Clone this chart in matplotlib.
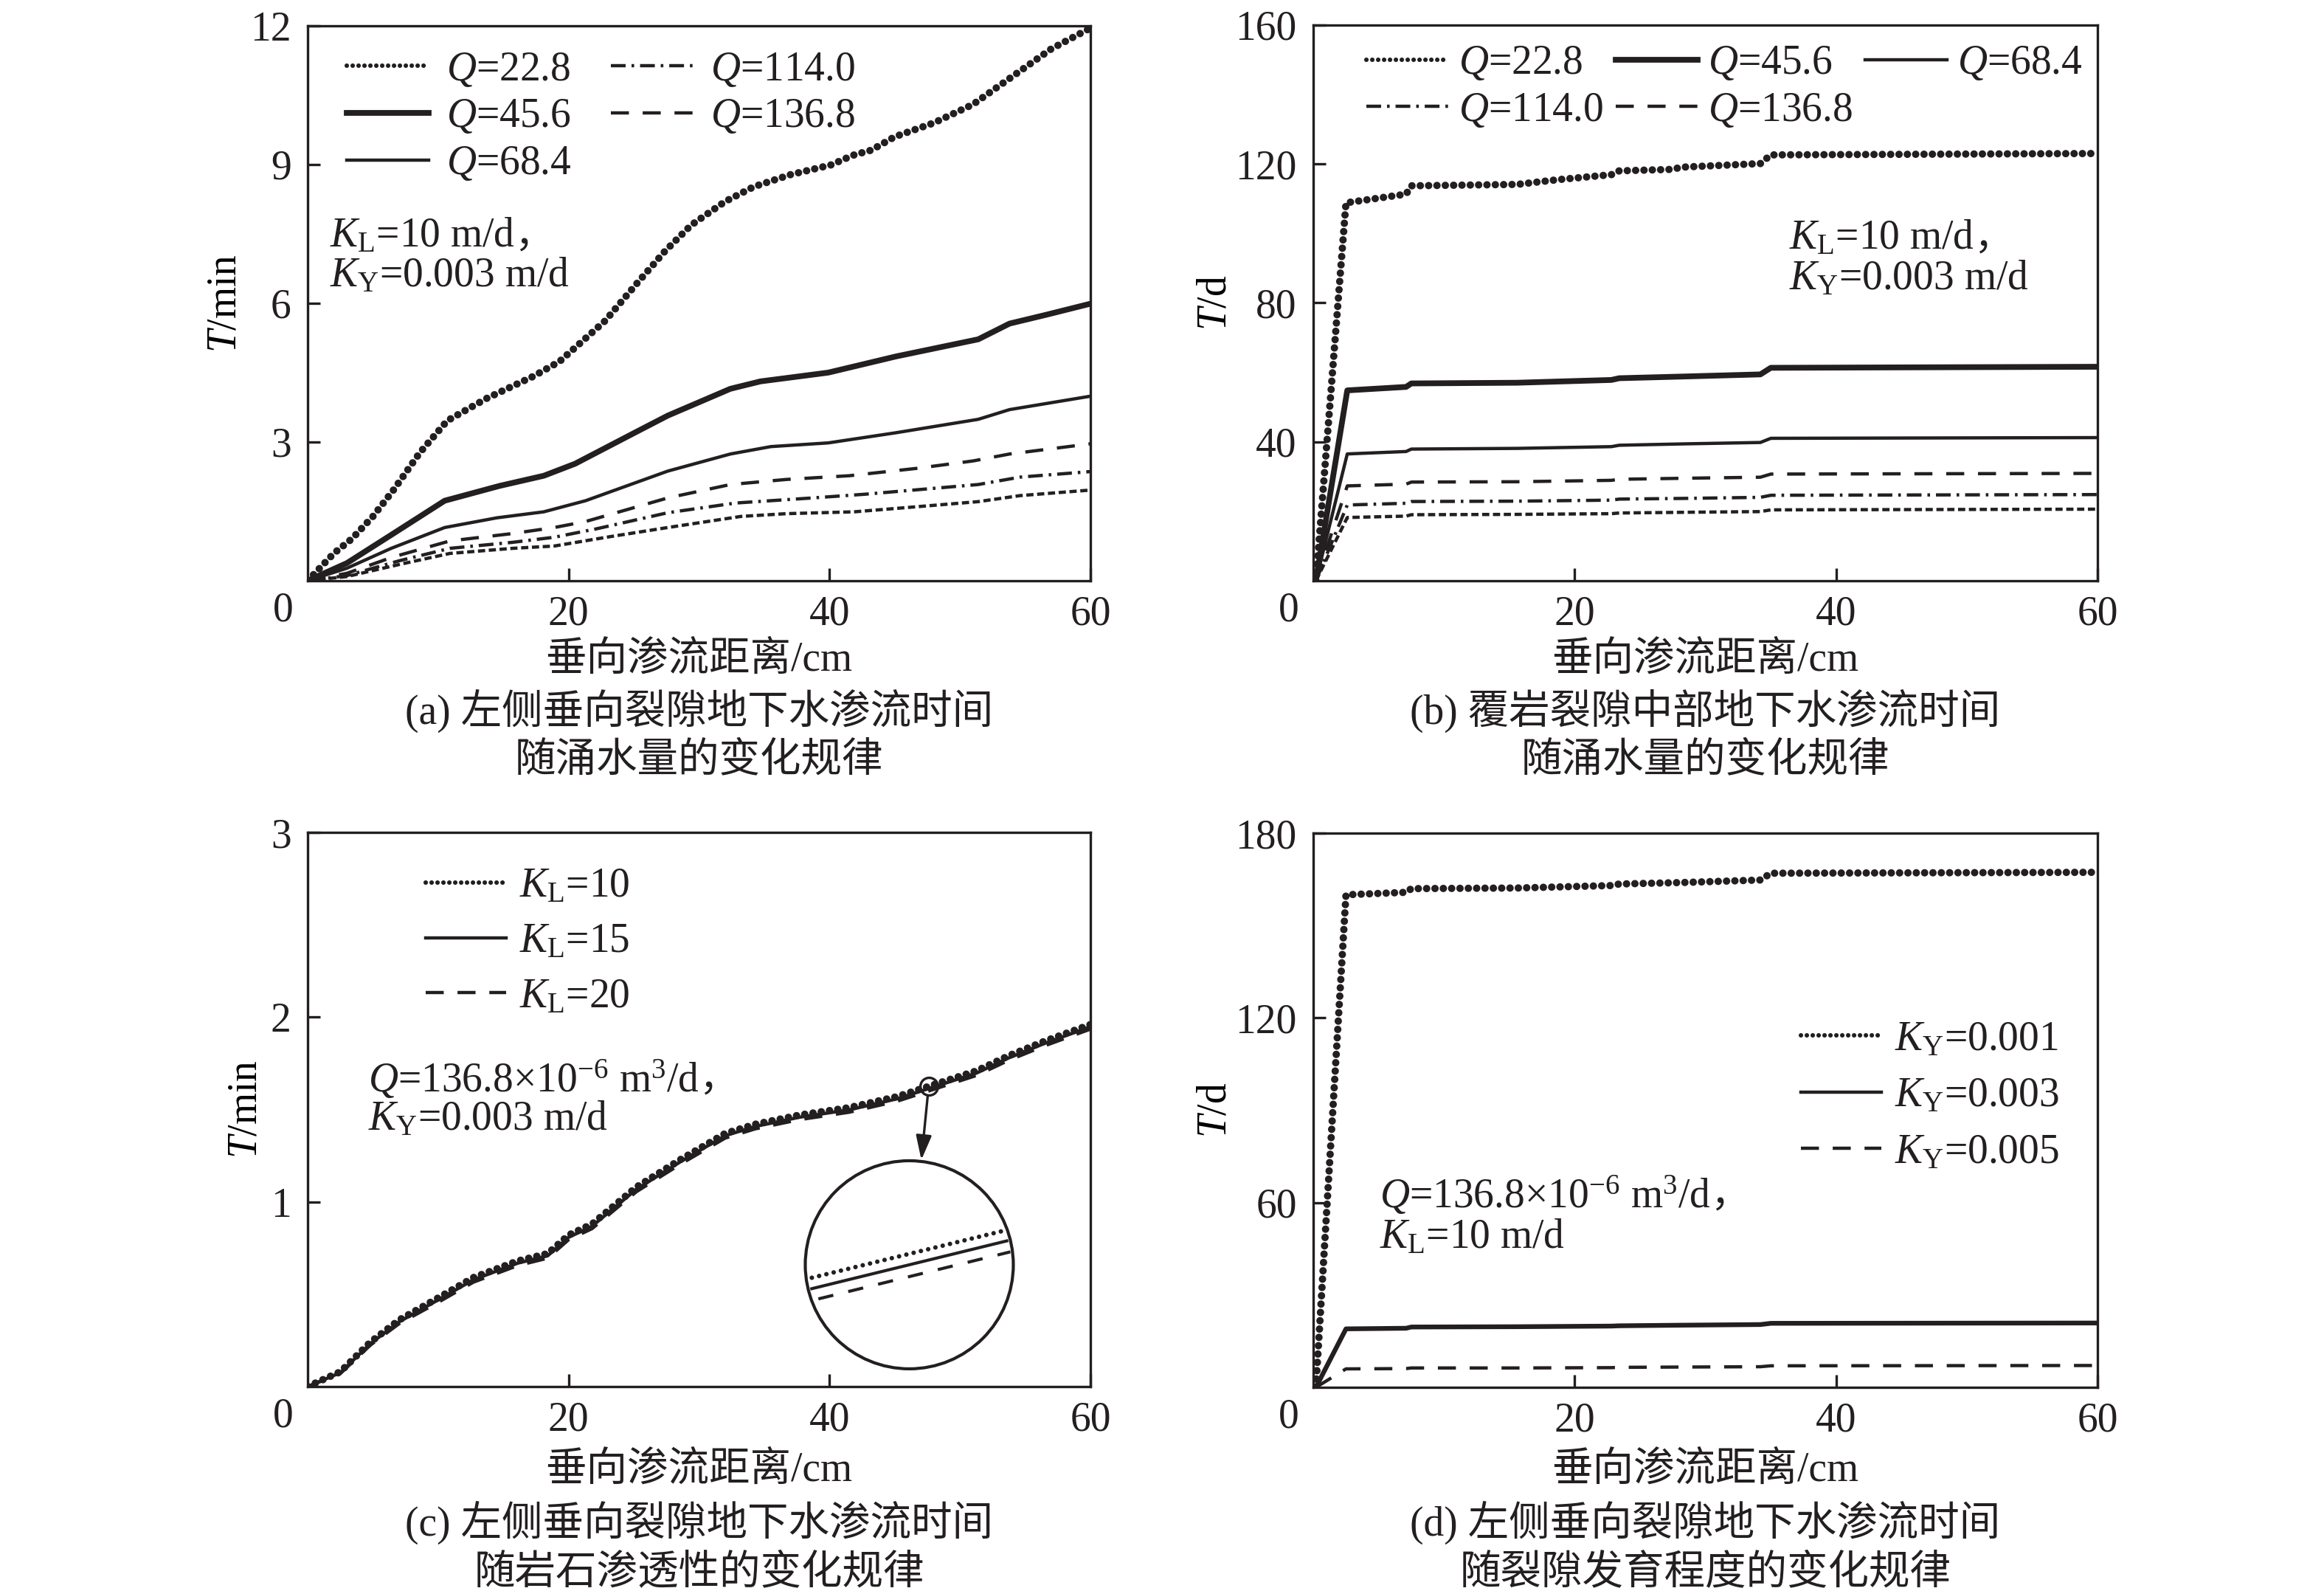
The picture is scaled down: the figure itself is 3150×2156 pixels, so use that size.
import matplotlib
matplotlib.use('Agg')
import numpy as np
import matplotlib.pyplot as plt
from matplotlib.lines import Line2D
from matplotlib.patches import Circle

# ---- (a) seepage time vs distance for different inflow Q ----
a_q228_x = [0, 2.0, 3.4, 5.0, 6.6, 8.6, 10.7, 13.7, 17.3, 19.3, 20.7, 22.8, 25.3, 27.4, 29.4,
            32.0, 34.2, 37.0, 40.1, 41.8, 43.2, 45, 48, 51, 53, 55, 57, 60]
a_q228_y = [0, 0.59, 0.91, 1.39, 1.97, 2.77, 3.46, 3.94, 4.42, 4.74, 5.09, 5.62, 6.45, 7.13, 7.69,
            8.2, 8.52, 8.78, 8.99, 9.2, 9.31, 9.6, 9.9, 10.3, 10.7, 11.1, 11.5, 11.95]
a_q456_x = [0, 3.0, 6.4, 10.5, 14.7, 18.1, 20.5, 25.2, 27.6, 32.4, 34.7, 39.9, 45.1, 51.4, 53.8, 56.6, 60]
a_q456_y = [0, 0.38, 0.99, 1.73, 2.05, 2.27, 2.53, 3.22, 3.57, 4.15, 4.31, 4.5, 4.85, 5.22, 5.56, 5.75, 5.99]
a_q684_x = [0, 3.0, 6.4, 10.5, 14.5, 18.1, 21.3, 27.6, 32.4, 35.5, 39.9, 45.1, 51.4, 53.8, 60]
a_q684_y = [0, 0.27, 0.70, 1.15, 1.36, 1.49, 1.73, 2.37, 2.74, 2.90, 2.98, 3.20, 3.49, 3.70, 3.99]
a_q1140_x = [0, 3.0, 7.0, 10.9, 15.7, 18.9, 22.1, 27.6, 32.8, 38.7, 42.7, 51.4, 54.6, 60]
a_q1140_y = [0, 0.11, 0.43, 0.70, 0.83, 0.94, 1.12, 1.47, 1.68, 1.79, 1.87, 2.08, 2.24, 2.36]
a_q1368_x = [0, 3.0, 6.5, 10.9, 15.7, 18.9, 21.3, 27.6, 32.4, 36.7, 41.5, 46.7, 51.0, 53.8, 60]
a_q1368_y = [0, 0.16, 0.51, 0.86, 1.02, 1.15, 1.28, 1.79, 2.08, 2.19, 2.27, 2.43, 2.59, 2.74, 2.96]
a_extra_x = [0, 3.0, 7.0, 10.9, 15.7, 18.9, 22.9, 27.6, 33.2, 36.7, 41.9, 46.7, 51.4, 54.6, 60]
a_extra_y = [0, 0.09, 0.35, 0.59, 0.70, 0.75, 0.94, 1.15, 1.39, 1.45, 1.49, 1.60, 1.71, 1.84, 1.96]

# ---- (b) middle of overburden fracture ----
b_x = [0.2, 2.6, 7.1, 7.5, 15.6, 22.8, 23.4, 28.4, 34.2, 35.0, 60]
b_q228_x = [0.2, 2.5, 7.1, 7.5, 15.6, 18.8, 22.8, 23.4, 27.2, 28.4, 34.2, 35.0, 60]
b_q228_y = [0, 108.8, 111.3, 113.7, 114.1, 115.5, 116.9, 118.0, 118.4, 119.1, 120.1, 122.6, 123.0]
b_q456_y = [0, 54.8, 55.8, 56.8, 57.0, 57.8, 58.3, 58.8, 59.4, 61.3, 61.6]
b_q684_y = [0, 36.5, 37.2, 37.9, 38.1, 38.6, 39.0, 39.4, 39.8, 41.0, 41.2]
b_q1140_y = [0, 21.8, 22.3, 22.8, 22.9, 23.2, 23.5, 23.7, 24.0, 24.6, 24.8]
b_q1368_y = [0, 27.3, 27.8, 28.4, 28.5, 28.9, 29.2, 29.5, 29.8, 30.7, 30.9]
b_extra_y = [0, 18.2, 18.6, 19.0, 19.1, 19.3, 19.5, 19.7, 19.9, 20.4, 20.6]

# ---- (c) different rock permeability K_L ----
c_x = [0, 2.5, 4.8, 7.0, 10.0, 12.7, 16.1, 18.4, 20.0, 21.8, 25.2, 28.6, 32.0, 34.3, 37.7,
       41.5, 45.2, 51.3, 53.7, 56.5, 60]
c_kl10_y = [0, 0.08, 0.24, 0.36, 0.48, 0.59, 0.68, 0.72, 0.82, 0.88, 1.08, 1.23, 1.37, 1.42, 1.47,
            1.51, 1.57, 1.71, 1.79, 1.87, 1.96]
c_kl15_y = [0, 0.075, 0.232, 0.35, 0.469, 0.578, 0.668, 0.708, 0.808, 0.868, 1.068, 1.218, 1.358, 1.408, 1.458,
            1.498, 1.558, 1.698, 1.778, 1.858, 1.948]
c_kl20_y = [0, 0.07, 0.224, 0.34, 0.456, 0.565, 0.655, 0.695, 0.795, 0.855, 1.055, 1.205, 1.345, 1.395, 1.445,
            1.485, 1.545, 1.685, 1.765, 1.845, 1.935]
c_zoom_x = 47.6

# ---- (d) different fracture development K_Y ----
d_x = [0.2, 2.5, 7.1, 7.5, 15.6, 22.8, 23.4, 28.4, 34.2, 35.0, 60]
d_ky001_y = [0, 160.0, 160.8, 162.0, 162.2, 163.0, 163.5, 164.0, 164.8, 167.0, 167.3]
d_ky003_y = [0, 19.0, 19.2, 19.6, 19.7, 19.9, 20.0, 20.2, 20.4, 20.8, 20.9]
d_ky005_y = [0, 6.0, 6.1, 6.3, 6.3, 6.4, 6.5, 6.6, 6.7, 7.0, 7.1]

INK = '#231f20'
plt.rcParams['font.family'] = ['Liberation Serif', 'Noto Sans CJK SC']
plt.rcParams['mathtext.fontset'] = 'custom'
plt.rcParams['mathtext.rm'] = 'Liberation Serif'
plt.rcParams['mathtext.it'] = 'Liberation Serif:italic'
plt.rcParams['mathtext.bf'] = 'Liberation Serif:bold'
plt.rcParams['font.size'] = 20
plt.rcParams['text.color'] = INK

DOTS = dict(lw=3.6, ls=(0, (0.01, 1.12)), dash_capstyle='round')
THICK = dict(lw=2.8, ls='-')
SOLID = dict(lw=1.6, ls='-')
DASH = dict(lw=1.6, ls=(0, (5.5, 4.2)))
DASHDOT = dict(lw=1.6, ls=(0, (4.5, 1.8, 0.8, 1.8)))
SQDOT = dict(lw=1.6, ls=(0, (2.2, 1.1)))
DOTS_LEG = dict(lw=2.2, ls=(0, (0.01, 1.3)), dash_capstyle='round')


def setup(ax, ymax, yticks, ylabel, ylab_x):
    ax.set_xlim(0, 60)
    ax.set_ylim(0, ymax)
    ax.set_xticks([20, 40, 60])
    ax.set_yticks(yticks)
    ax.tick_params(direction='in', length=6, width=1.2, colors=INK, labelsize=20)
    ax.tick_params(axis='x', pad=7)
    ax.tick_params(axis='y', pad=8)
    for s in ax.spines.values():
        s.set_linewidth(1.2)
        s.set_color(INK)
    ax.set_ylabel(ylabel, va='center')
    ax.yaxis.set_label_coords(ylab_x, 0.5)
    ax.annotate('0', xy=(0, 0), xycoords='axes fraction', xytext=(-11.9, -14.6),
                textcoords='offset points', ha='center', va='center')


def note(ax, x, y, s, comma=False):
    t = ax.text(x, y, s, transform=ax.transAxes, va='center')
    if comma:
        # full-width comma is drawn separately so the CJK font can supply it
        ax.annotate('，', xy=(1, 0.5), xycoords=t, va='center', ha='left',
                    family=['Noto Sans CJK SC'], fontsize=19)
    return t


fig = plt.figure(figsize=(15.75, 10.78), dpi=200)
ax_a = fig.add_axes([0.1324, 0.6350, 0.3368, 0.3488])
ax_b = fig.add_axes([0.5651, 0.6350, 0.3375, 0.3493])
ax_c = fig.add_axes([0.1324, 0.1285, 0.3368, 0.3483])
ax_d = fig.add_axes([0.5651, 0.1280, 0.3375, 0.3483])

# (a)
setup(ax_a, 12, [3, 6, 9, 12], '$T$/min', -0.1056)
ax_a.plot(a_extra_x, a_extra_y, color=INK, **SQDOT)
l5, = ax_a.plot(a_q1140_x, a_q1140_y, color=INK, **DASHDOT)
l6, = ax_a.plot(a_q1368_x, a_q1368_y, color=INK, **DASH)
l3, = ax_a.plot(a_q684_x, a_q684_y, color=INK, **SOLID)
l2, = ax_a.plot(a_q456_x, a_q456_y, color=INK, **THICK)
ax_a.plot(a_q228_x, a_q228_y, color=INK, **DOTS)
p1 = Line2D([], [], color=INK, **DOTS_LEG)
ax_a.legend([p1, l2, l3, l5, l6],
            ['$Q$=22.8', '$Q$=45.6', '$Q$=68.4', '$Q$=114.0', '$Q$=136.8'],
            ncol=2, loc='upper left', bbox_to_anchor=(0.05, 0.955), frameon=False,
            borderpad=0, borderaxespad=0, handlelength=2.0, handletextpad=0.43,
            columnspacing=0.95, labelspacing=0.21, fontsize=20)
note(ax_a, 0.028, 0.621, '$K_{\\mathrm{L}}$=10 m/d', comma=True)
note(ax_a, 0.028, 0.5485, '$K_{\\mathrm{Y}}$=0.003 m/d')

# (b)
setup(ax_b, 160, [40, 80, 120, 160], '$T$/d', -0.125)
ax_b.plot(b_x, b_extra_y, color=INK, **SQDOT)
m4, = ax_b.plot(b_x, b_q1140_y, color=INK, **DASHDOT)
m5, = ax_b.plot(b_x, b_q1368_y, color=INK, **DASH)
m3, = ax_b.plot(b_x, b_q684_y, color=INK, **SOLID)
m2, = ax_b.plot(b_x, b_q456_y, color=INK, **THICK)
ax_b.plot(b_q228_x, b_q228_y, color=INK, **DOTS)
q1 = Line2D([], [], color=INK, **DOTS_LEG)
ax_b.legend([q1, m4, m2, m5, m3],
            ['$Q$=22.8', '$Q$=114.0', '$Q$=45.6', '$Q$=136.8', '$Q$=68.4'],
            ncol=3, loc='upper left', bbox_to_anchor=(0.0677, 0.965), frameon=False,
            borderpad=0, borderaxespad=0, handlelength=2.0, handletextpad=0.25,
            columnspacing=0.3, labelspacing=0.21, fontsize=20)
note(ax_b, 0.607, 0.616, '$K_{\\mathrm{L}}$=10 m/d', comma=True)
note(ax_b, 0.607, 0.5425, '$K_{\\mathrm{Y}}$=0.003 m/d')

# (c)
setup(ax_c, 3, [1, 2, 3], '$T$/min', -0.079)
n3, = ax_c.plot(c_x, c_kl20_y, color=INK, **DASH)
n2, = ax_c.plot(c_x, c_kl15_y, color=INK, **SOLID)
ax_c.plot(c_x, c_kl10_y, color=INK, **DOTS)
r1 = Line2D([], [], color=INK, **DOTS_LEG)
ax_c.legend([r1, n2, n3], ['$K_{\\mathrm{L}}$=10', '$K_{\\mathrm{L}}$=15', '$K_{\\mathrm{L}}$=20'],
            loc='upper left', bbox_to_anchor=(0.151, 0.937), frameon=False,
            borderpad=0, borderaxespad=0, handlelength=1.95, handletextpad=0.34,
            labelspacing=0.41, fontsize=20)
note(ax_c, 0.0773, 0.554, '$Q$=136.8×10$^{-6}$ m$^{3}$/d', comma=True)
note(ax_c, 0.0773, 0.482, '$K_{\\mathrm{Y}}$=0.003 m/d')

# zoom marker, arrow and magnified circle
zy15 = float(np.interp(c_zoom_x, c_x, c_kl15_y))
zy10 = float(np.interp(c_zoom_x, c_x, c_kl10_y))
ax_c.plot([c_zoom_x], [zy10], marker='o', ms=8.6, mfc='none', mec=INK, mew=1.2, ls='none')
ax_c.annotate('', xy=(0.784, 0.409), xycoords='axes fraction', xytext=(c_zoom_x, zy10),
              textcoords='data',
              arrowprops=dict(arrowstyle='-|>,head_length=0.5,head_width=0.16', color=INK,
                              lw=1.2, shrinkA=4.5, shrinkB=0, mutation_scale=20))
ins = ax_c.inset_axes([0.6357, 0.032, 0.2658, 0.3755])
ins.set_xlim(c_zoom_x - 1.22, c_zoom_x + 1.22)
ins.set_ylim(zy15 - 0.1143, zy15 + 0.1143)
ins.axis('off')
circ = Circle((0.5, 0.5), 0.5, transform=ins.transAxes, fill=False, ec=INK, lw=1.5, clip_on=False)
ins.add_patch(circ)
clipc = Circle((0.5, 0.5), 0.49, transform=ins.transAxes)
for yy, st in [(c_kl10_y, dict(lw=2.2, ls=(0, (0.01, 1.65)), dash_capstyle='round')),
               (c_kl15_y, dict(lw=1.5, ls='-')),
               (c_kl20_y, dict(lw=1.5, ls=(0, (5, 5))))]:
    ln, = ins.plot(c_x, yy, color=INK, **st)
    ln.set_clip_path(clipc)

# (d)
setup(ax_d, 180, [60, 120, 180], '$T$/d', -0.125)
o3, = ax_d.plot(d_x, d_ky005_y, color=INK, **DASH)
o2, = ax_d.plot(d_x, d_ky003_y, color=INK, lw=2.3, ls='-')
ax_d.plot(d_x, d_ky001_y, color=INK, **DOTS)
s1 = Line2D([], [], color=INK, **DOTS_LEG)
s2 = Line2D([], [], color=INK, **SOLID)
ax_d.legend([s1, s2, o3], ['$K_{\\mathrm{Y}}$=0.001', '$K_{\\mathrm{Y}}$=0.003', '$K_{\\mathrm{Y}}$=0.005'],
            loc='upper left', bbox_to_anchor=(0.622, 0.662), frameon=False,
            borderpad=0, borderaxespad=0, handlelength=1.96, handletextpad=0.32,
            labelspacing=0.44, fontsize=20)
note(ax_d, 0.0847, 0.346, '$Q$=136.8×10$^{-6}$ m$^{3}$/d', comma=True)
note(ax_d, 0.0847, 0.270, '$K_{\\mathrm{L}}$=10 m/d')

# axis titles and captions
for xc, yl, c1, c2, y1, y2 in [
        (0.3008, 0.585, '(a) 左侧垂向裂隙地下水渗流时间', '随涌水量的变化规律', 0.553, 0.5215),
        (0.7338, 0.585, '(b) 覆岩裂隙中部地下水渗流时间', '随涌水量的变化规律', 0.553, 0.5215),
        (0.3008, 0.0756, '(c) 左侧垂向裂隙地下水渗流时间', '随岩石渗透性的变化规律', 0.043, 0.0112),
        (0.7338, 0.0756, '(d) 左侧垂向裂隙地下水渗流时间', '随裂隙发育程度的变化规律', 0.043, 0.0112)]:
    fig.text(xc, yl, '垂向渗流距离/cm', ha='center', va='center', fontsize=20)
    fig.text(xc, y1, c1, ha='center', va='center', fontsize=20)
    fig.text(xc, y2, c2, ha='center', va='center', fontsize=20)

fig.savefig('out.png', dpi=200, facecolor='white')
